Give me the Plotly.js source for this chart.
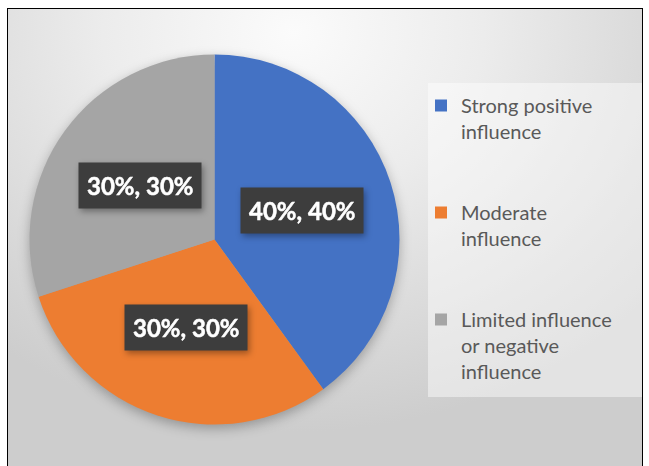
<!DOCTYPE html>
<html><head><meta charset="utf-8">
<script src="https://cdn.plot.ly/plotly-3.0.1.min.js"></script>
<style>
html,body{margin:0;padding:0;background:#fff;overflow:hidden;}
#bg{position:absolute;left:7px;top:8px;width:634px;height:470px;border:1px solid #000;
 background:radial-gradient(ellipse 75% 85% at 45% 5%, #fbfbfb 0%, #ececec 40%, #cdcdcd 100%);}
#chart{position:absolute;left:0;top:0;width:649px;height:466px;}
.pielayer{filter:drop-shadow(0px 4px 6px rgba(0,0,0,0.28));}
.annotation{filter:drop-shadow(2px 3px 3px rgba(0,0,0,0.35));}
.annotation-text{stroke:#ffffff;stroke-width:0.5px;}
</style></head><body>
<div id="bg"></div><div id="chart"></div>
<script>
const categories = ["Strong positive<br>influence", "Moderate<br>influence", "Limited influence<br>or negative<br>influence"];
const values = [40, 30, 30];
const colors = ["#4472C4", "#ED7D31", "#A5A5A5"];

const W = 649, H = 466;
const dom = {x: [29.5 / W, 399.5 / W], y: [41.5 / H, 411.5 / H]};
const cx = (dom.x[0] + dom.x[1]) / 2 * W;
const cy = H - (dom.y[0] + dom.y[1]) / 2 * H;
const r = Math.min((dom.x[1] - dom.x[0]) * W, (dom.y[1] - dom.y[0]) * H) / 2;
const total = values.reduce((a, b) => a + b, 0);

let cum = 0;
const annotations = values.map((v, i) => {
  const mid = (cum + v / 2) / total; cum += v;
  const a = mid * 2 * Math.PI;
  const px = cx + 0.5 * r * Math.sin(a), py = cy - 0.5 * r * Math.cos(a);
  return {x: px / W, y: 1 - py / H, xref: 'paper', yref: 'paper', showarrow: false,
    xanchor: 'center', yanchor: 'middle',
    text: '<b>' + v + '%, ' + Math.round(v / total * 100) + '%</b>',
    bgcolor: '#3d3d3d', borderpad: 8,
    font: {family: 'Lato, sans-serif', size: 24, color: '#ffffff', weight: 900}};
});

const trace = {
  type: 'pie', values: values, labels: categories.map(c => c + '<br> <br> '),
  marker: {colors: colors, line: {width: 0}},
  sort: false, direction: 'clockwise', rotation: 0,
  textinfo: 'none', hoverinfo: 'none', domain: dom
};

const layout = {
  width: W, height: H, margin: {l: 0, r: 0, t: 0, b: 0},
  paper_bgcolor: 'rgba(0,0,0,0)', plot_bgcolor: 'rgba(0,0,0,0)',
  showlegend: true,
  legend: {x: 421 / W, xanchor: 'left', y: 1 - 86 / H, yanchor: 'top', valign: 'top',
    bgcolor: 'rgba(0,0,0,0)', font: {family: 'Lato, sans-serif', size: 20, color: '#595959'}},
  shapes: [{type: 'rect', xref: 'paper', yref: 'paper', layer: 'below',
    x0: 428 / W, x1: 642 / W, y0: 1 - 397 / H, y1: 1 - 83 / H,
    fillcolor: 'rgba(255,255,255,0.45)', line: {width: 0}}],
  annotations: annotations
};

Plotly.newPlot('chart', [trace], layout, {displayModeBar: false, staticPlot: true});
</script>
</body></html>
